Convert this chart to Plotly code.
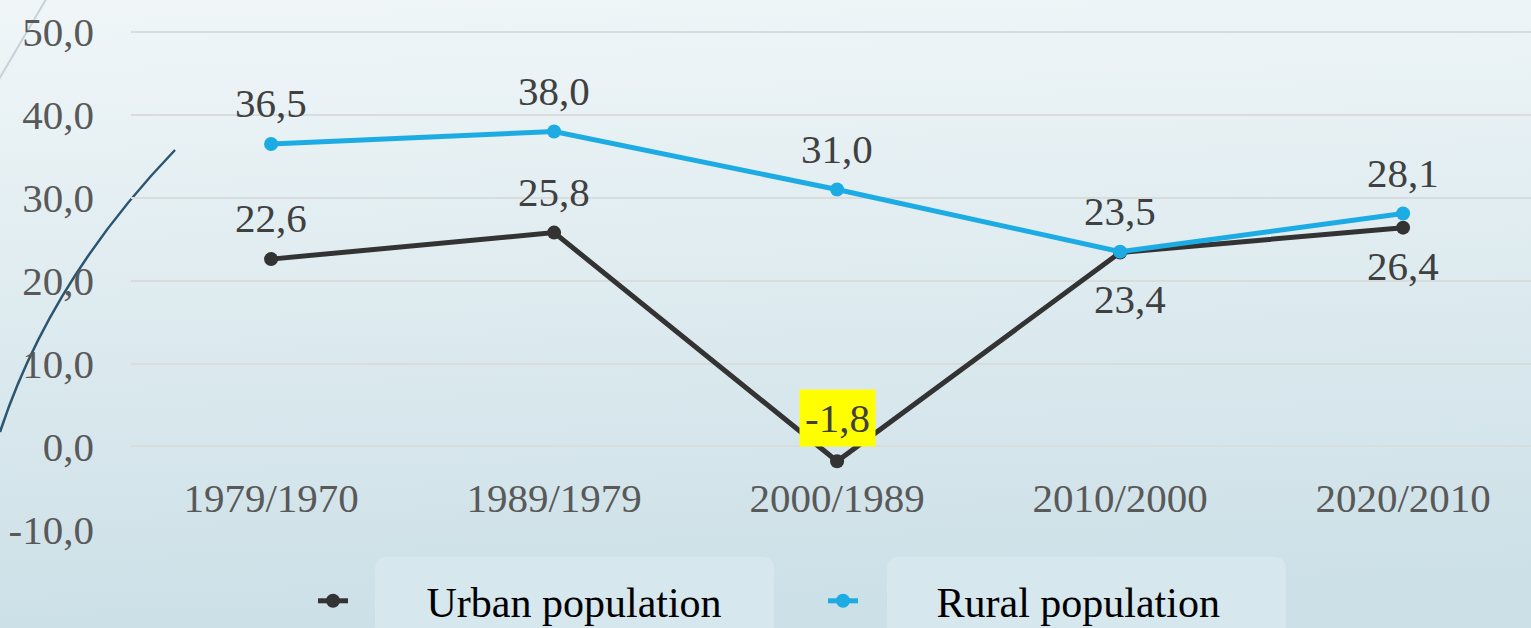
import base64
import plotly.graph_objects as go

categories = ['1979/1970', '1989/1979', '2000/1989', '2010/2000', '2020/2010']
urban = [22.6, 25.8, -1.8, 23.4, 26.4]
rural = [36.5, 38.0, 31.0, 23.5, 28.1]
series_names = ['Urban population', 'Rural population']
y_ticks = [-10, 0, 10, 20, 30, 40, 50]

# style
W, H = 1531, 628
ML, MR, MT, MB = 131, 0, 28, 98
PW, PH = W - ML - MR, H - MT - MB
URBAN_C = '#333333'
RURAL_C = '#1dabe3'
FONT = 'Liberation Serif'
LBL = 41
urban_label_shift = [41, 41, 43, -47, -38]
urban_label_xshift = [0, 0, 0, 10, 0]


def px(x):
    return (x - ML) / PW


def py(y):
    return (H - MB - y) / PH


def fmt(v):
    return f'{v:.1f}'.replace('.', ',')


fig = go.Figure()
fig.add_trace(go.Scatter(
    x=categories, y=urban, name='\u00a0' * 7 + series_names[0], mode='lines+markers',
    line=dict(color=URBAN_C, width=5), marker=dict(size=14, color=URBAN_C)))
fig.add_trace(go.Scatter(
    x=categories, y=rural, name='\u00a0' * 7 + series_names[1], mode='lines+markers',
    line=dict(color=RURAL_C, width=5), marker=dict(size=14, color=RURAL_C)))

annotations = []
for i, (c, v) in enumerate(zip(categories, urban)):
    a = dict(x=c, y=v, text=fmt(v), showarrow=False, yshift=urban_label_shift[i],
             xshift=urban_label_xshift[i], font=dict(family=FONT, size=LBL, color='#404040'))
    if v < 0:
        a['bgcolor'] = '#ffff00'
        a['borderpad'] = 5
    annotations.append(a)
for c, v in zip(categories, rural):
    annotations.append(dict(x=c, y=v, text=fmt(v), showarrow=False, yshift=41,
                            font=dict(family=FONT, size=LBL, color='#404040')))

# gradient background as svg
svg = (f'<svg xmlns="http://www.w3.org/2000/svg" width="{W}" height="{H}">'
       '<defs><linearGradient id="g" x1="0" y1="0" x2="0.08" y2="1">'
       '<stop offset="0" stop-color="#f0f6f8"/><stop offset="1" stop-color="#cce0e7"/>'
       '</linearGradient></defs>'
       f'<rect width="{W}" height="{H}" fill="url(#g)"/></svg>')
src = 'data:image/svg+xml;base64,' + base64.b64encode(svg.encode()).decode()

shapes = []
# legend boxes
def rbox(x0, y0, x1, y1, r=12):
    pts = (f'M {px(x0 + r)} {py(y0)} L {px(x1 - r)} {py(y0)} '
           f'Q {px(x1)} {py(y0)} {px(x1)} {py(y0 + r)} L {px(x1)} {py(y1)} '
           f'L {px(x0)} {py(y1)} L {px(x0)} {py(y0 + r)} Q {px(x0)} {py(y0)} {px(x0 + r)} {py(y0)} Z')
    return dict(type='path', xref='paper', yref='paper', path=pts, fillcolor='#d6e7ed',
                line=dict(width=0), layer='below')

shapes.append(rbox(375, 557, 774, 640))
shapes.append(rbox(887, 557, 1286, 640))
# decorative curves
shapes.append(dict(type='path', xref='paper', yref='paper', layer='below',
                   path=f'M {px(0)} {py(432)} Q {px(50)} {py(280)} {px(175)} {py(150)}',
                   line=dict(color='#2b5570', width=2.5)))
shapes.append(dict(type='path', xref='paper', yref='paper', layer='below',
                   path=f'M {px(-5)} {py(86)} L {px(48)} {py(-4)}',
                   line=dict(color='#c5d2d8', width=2)))

fig.update_layout(
    width=W, height=H,
    margin=dict(l=ML, r=MR, t=MT, b=MB, autoexpand=False),
    paper_bgcolor='#dbe9ee', plot_bgcolor='rgba(0,0,0,0)',
    separators=',.',
    font=dict(family=FONT, color='#595959'),
    images=[dict(source=src, xref='paper', yref='paper', x=px(0), y=py(0),
                 sizex=W / PW, sizey=H / PH, sizing='stretch', layer='below',
                 xanchor='left', yanchor='top')],
    shapes=shapes,
    annotations=annotations,
    showlegend=True,
    legend=dict(orientation='h', x=px(313), xanchor='left', y=py(601), yanchor='middle',
                bgcolor='rgba(0,0,0,0)', font=dict(family=FONT, size=42, color='#000000'),
                entrywidth=465, entrywidthmode='pixels'),
    xaxis=dict(range=[-0.495, 4.452], showgrid=False, zeroline=False, showline=False,
               ticks='', anchor='free', position=py(446), ticklabelstandoff=24,
               tickfont=dict(family=FONT, size=LBL, color='#595959')),
    yaxis=dict(range=[-10.1, 50.5], tickvals=y_ticks, ticktext=[fmt(v) for v in y_ticks],
               showgrid=True, gridcolor='#d8dcdd', gridwidth=1.5, zeroline=False,
               showline=False, ticklabelstandoff=36,
               tickfont=dict(family=FONT, size=LBL, color='#595959')),
)

fig.write_html('out.html', config={'displayModeBar': False},
               post_script="document.body.style.margin='0';document.body.style.overflow='hidden';")
